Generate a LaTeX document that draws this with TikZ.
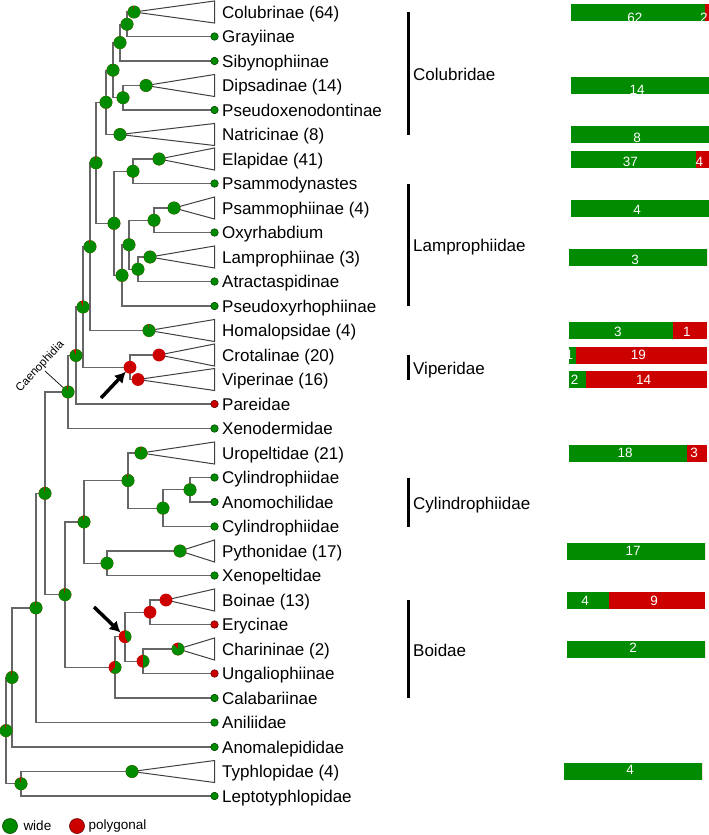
\documentclass[tikz,border=0pt]{standalone}
\usepackage{fontspec}
\setmainfont{Liberation Sans}
\usetikzlibrary{arrows.meta}
\definecolor{widegreen}{RGB}{0,139,0}
\definecolor{polyred}{RGB}{205,0,0}
\tikzset{
  branch/.style={draw=black!60, line width=1.2pt},
  clade/.style={draw=black!75, line width=1pt},
  taxon/.style={anchor=west, inner sep=0pt, text height=12pt, text depth=0pt, font=\fontsize{17}{20}\selectfont},
  tipdot/.style={circle, inner sep=0pt, minimum size=7.5pt, fill=widegreen, draw=widegreen!50!black, line width=.6pt},
  reddot/.style={tipdot, fill=polyred, draw=polyred!50!black},
  tally/.style={text=white, inner sep=0pt, font=\fontsize{13.5}{16}\selectfont},
  cladebar/.style={line width=3pt},
  pointer/.style={-{Latex[length=11pt,width=12pt]}, line width=3.5pt, shorten >=6pt},
  keydot/.style={circle, inner sep=0pt, minimum size=15pt, line width=.6pt},
}
\def\pierad{6.4pt}
% internal node: name, x, upper child, lower child
\newcommand\joinnode[4]{%
  \path (#3) -- (#4) coordinate[pos=.5] (#1-m);
  \coordinate (#1) at (#2,0 |- #1-m);
  \draw[branch] (#3) -| (#1) |- (#4);}
% pie: node, share of wide (green, clockwise from the top)
\newcommand\pienode[2]{%
  \fill[polyred] (#1) circle[radius=\pierad];
  \ifdim#2pt>0pt
    \fill[widegreen] (#1) -- ++(90:\pierad) arc[start angle=90, delta angle=-360*#2, radius=\pierad] -- cycle;
  \fi}
\begin{document}
\begin{tikzpicture}[x=1pt, y=-1pt]
  \useasboundingbox[fill=white] (0,0) rectangle (709,835);

  % tips and their labels
  \foreach \lab [count=\i from 0] in {Colubrinae (64), Grayiinae, Sibynophiinae, Dipsadinae (14),
      Pseudoxenodontinae, Natricinae (8), Elapidae (41), Psammodynastes, Psammophiinae (4),
      Oxyrhabdium, Lamprophiinae (3), Atractaspidinae, Pseudoxyrhophiinae, Homalopsidae (4),
      Crotalinae (20), Viperinae (16), Pareidae, Xenodermidae, Uropeltidae (21), Cylindrophiidae,
      Anomochilidae, Cylindrophiidae, Pythonidae (17), Xenopeltidae, Boinae (13), Erycinae,
      Charininae (2), Ungaliophiinae, Calabariinae, Aniliidae, Anomalepididae, Typhlopidae (4),
      Leptotyphlopidae} {
    \coordinate (r\i) at (214.5,{12+24.5*\i});
    \node[taxon] (l\i) at ([xshift=7.5pt]r\i) {\lab};
  }
  % apices of the collapsed clades
  \foreach \i/\x in {0/134, 3/146, 5/120, 6/159, 8/174, 10/150, 13/149, 14/159, 15/138,
      18/141, 22/180, 24/166, 26/178, 31/132}
    \coordinate (a\i) at (\x,0 |- r\i);

  \joinnode{n1}{127}{a0}{r1}
  \joinnode{n2}{120}{n1}{r2}
  \joinnode{n3}{123}{a3}{r4}
  \joinnode{n4}{113}{n2}{n3}
  \joinnode{n5}{106}{n4}{a5}
  \joinnode{n6}{133}{a6}{r7}
  \joinnode{n7}{154}{a8}{r9}
  \joinnode{n8}{138}{a10}{r11}
  \joinnode{n9}{129}{n7}{n8}
  \joinnode{n10}{122}{n9}{r12}
  \joinnode{n11}{114}{n6}{n10}
  \joinnode{n12}{96}{n5}{n11}
  \joinnode{n13}{90}{n12}{a13}
  \joinnode{n14}{130}{a14}{a15}
  \joinnode{n15}{83}{n13}{n14}
  \joinnode{n16}{76}{n15}{r16}
  \joinnode{n17}{68}{n16}{r17}
  \joinnode{n18}{190}{r19}{r20}
  \joinnode{n19}{163}{n18}{r21}
  \joinnode{n20}{128}{a18}{n19}
  \joinnode{n21}{107}{a22}{r23}
  \joinnode{n22}{84}{n20}{n21}
  \joinnode{n23}{150}{a24}{r25}
  \joinnode{n24}{143}{a26}{r27}
  \joinnode{n25}{125}{n23}{n24}
  \joinnode{n26}{115}{n25}{r28}
  \joinnode{n27}{65}{n22}{n26}
  \joinnode{n28}{45}{n17}{n27}
  \joinnode{n29}{36}{n28}{r29}
  \joinnode{n30}{12}{n29}{r30}
  \joinnode{n31}{21}{a31}{r32}
  \joinnode{n32}{6}{n30}{n31}

  \foreach \i in {0,3,5,6,8,10,13,14,15,18,22,24,26,31}
    \draw[clade] (a\i) -- ([yshift=11pt]r\i) -- ([yshift=-11pt]r\i) -- cycle;
  \foreach \i in {1,2,4,7,9,11,12,17,19,20,21,23,28,29,30,32}
    \node[tipdot] (d\i) at (r\i) {};
  \foreach \i in {16,25,27}
    \node[reddot] (d\i) at (r\i) {};

  \node[rotate=47, anchor=south, inner sep=1pt, font=\fontsize{11.5}{13}\selectfont] (caen) at (45,371) {Caenophidia};
  \draw[line width=.7pt] (caen.south) -- (n17);

  \coordinate (arrow1) at (101,398);
  \coordinate (arrow2) at (94,607);
  \draw[pointer] (arrow1) -- (n14);
  \draw[pointer] (arrow2) -- (n25);

  \foreach \n/\gf in {a0/.98, n1/1, n2/1, a3/1, n3/1, n4/.99, a5/1, n5/1, a6/1, n6/1, a8/1,
      n7/1, a10/.99, n8/1, n9/1, n10/1, n11/1, n12/.98, n13/.98, a13/.98, a14/0, a15/0, n14/0,
      n15/.94, n16/.93, n17/.97, a18/.98, n18/1, n19/1, n20/.98, a22/1, n21/1, n22/.97, a24/0,
      n23/0, a26/.88, n24/.5, n25/.42, n26/.62, n27/.97, n28/.97, n29/.98, n30/.97, a31/1,
      n31/.95, n32/.97}
    \pienode{\n}{\gf};

  % families
  \foreach \lab/\top/\bot [count=\k] in {Colubridae/0/5, Lamprophiidae/7/12, Viperidae/14/15,
      Cylindrophiidae/19/21, Boidae/24/28} {
    \draw[cladebar] (408,0 |- r\top) -- (408,0 |- r\bot) coordinate[midway] (grp\k);
    \node[taxon] (grplab\k) at ([xshift=5pt,yshift=-1pt]grp\k) {\lab};
  }

  % counts: y, left end, wide, polygonal, y of the numbers
  \foreach \yc/\xs/\gn/\rd/\ty [count=\k] in {12/571/62/2/18, 85.5/571/14/0/90, 134.5/571/8/0/138,
      159/571/37/4/162, 208/571/4/0/210, 257/569/3/0/260, 330.5/569/3/1/332, 355/569/1/19/355,
      379.5/569/2/14/380, 453/569/18/3/453, 551/567/17/0/551, 600/567/4/9/601, 649/567/2/0/648,
      771.5/564/4/0/770} {
    \pgfmathsetmacro\gw{138*\gn/(\gn+\rd)}
    \begin{scope}
      \clip (\xs,\yc-8.5) rectangle ++(138,17);
      \fill[widegreen] (\xs,\yc-8.5) rectangle ++(\gw,17);
      \fill[polyred] (\xs+\gw,\yc-8.5) rectangle (\xs+138,\yc+8.5);
      \node[tally] (bar\k-g) at (\xs+\gw/2-3,\ty) {\gn};
      \ifnum\rd>0 \node[tally] (bar\k-r) at ({\xs+(138+\gw)/2-3},\ty) {\rd};\fi
    \end{scope}
  }

  % key
  \node[keydot, fill=widegreen, draw=widegreen!50!black] (keywide) at (10,826) {};
  \node[anchor=west, inner sep=0pt, font=\fontsize{13.5}{16}\selectfont] (keywidetxt) at ([xshift=5.5pt]keywide.east) {wide};
  \node[keydot, fill=polyred, draw=polyred!50!black] (keypoly) at (77,826) {};
  \node[anchor=west, inner sep=0pt, font=\fontsize{13.5}{16}\selectfont] (keypolytxt) at ([xshift=3.5pt]keypoly.east) {polygonal};
\end{tikzpicture}
\end{document}
